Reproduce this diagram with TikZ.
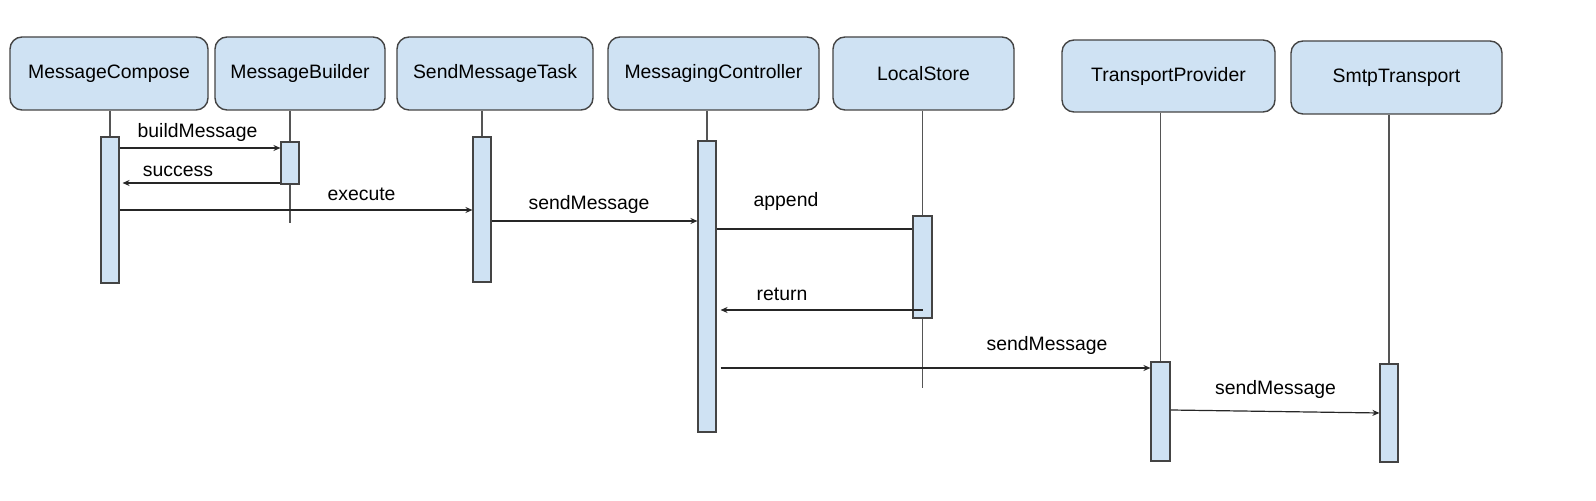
\documentclass[tikz,border=0pt]{standalone}
\usepackage{fontspec}
\setmainfont{Liberation Sans}
\usetikzlibrary{arrows.meta}
\definecolor{headblue}{HTML}{CFE2F3}
\definecolor{edgegray}{HTML}{444444}
\definecolor{lifegray}{HTML}{555555}

\begin{document}
\begin{tikzpicture}[x=0.5pt, y=-0.5pt,
	head/.style={draw=edgegray, fill=headblue, rounded corners=6pt, line width=0.7pt,
		minimum height=36.5pt, inner sep=0pt, font=\fontsize{9.7}{11}\selectfont},
	bar/.style={draw=edgegray, fill=headblue, line width=0.55pt, minimum width=9pt, inner sep=0pt},
	life/.style={draw=lifegray, line width=0.6pt},
	msg/.style={draw=black!85, line width=0.6pt, -{Stealth[length=3.5pt,width=3pt]}},
	lbl/.style={anchor=base, inner sep=0pt, font=\fontsize{9.7}{11}\selectfont}]

	\useasboundingbox (0,0) rectangle (1596,501);

	% Drawing the participants
	\node [head, minimum width=99pt] (compose) at (109,73.5) {MessageCompose};
	\node [head, minimum width=85pt] (builder) at (300,73.5) {MessageBuilder};
	\node [head, minimum width=98pt] (task) at (495,73.5) {SendMessageTask};
	\node [head, minimum width=105.5pt] (controller) at (713.5,73.5) {MessagingController};
	\node [head, minimum width=90.5pt] (store) at (923.5,73.5) {LocalStore};
	\node [head, minimum width=106.5pt, minimum height=36pt] (provider) at (1168.5,76) {TransportProvider};
	\node [head, minimum width=105.5pt] (smtp) at (1396.5,77.5) {SmtpTransport};

	% Drawing the activation bars
	\node [bar, minimum height=73pt] (cbar) at (110,210) {};
	\node [bar, minimum height=21pt] (bbar) at (290,163) {};
	\node [bar, minimum height=72.5pt] (tbar) at (482,209.5) {};
	\node [bar, minimum height=145.5pt] (mbar) at (707,286.5) {};
	\node [bar, minimum width=9.5pt, minimum height=51pt] (sbar) at (922.5,267) {};
	\node [bar, minimum width=9.5pt, minimum height=49.5pt] (pbar) at (1160.5,411.5) {};
	\node [bar, minimum height=49pt] (xbar) at (1389,413) {};

	% Drawing the lifelines
	\coordinate (bend) at (290,223);
	\coordinate (send) at (922.5,388);
	\draw [life] (compose.south -| cbar.north) -- (cbar.north);
	\draw [life] (builder.south -| bbar.north) -- (bbar.north);
	\draw [life] (bbar.south) -- (bend);
	\draw [life] (task.south -| tbar.north) -- (tbar.north);
	\draw [life] (controller.south -| mbar.north) -- (mbar.north);
	\draw [life] (store.south -| sbar.north) -- (sbar.north);
	\draw [life] (sbar.south) -- (send);
	\draw [life] (provider.south -| pbar.north) -- (pbar.north);
	\draw [life] (smtp.south -| xbar.north) -- (xbar.north);

	% Levels of the messages
	\foreach \n/\y in {lvbuild/148, lvsuccess/183, lvexecute/210, lvsend/221, lvappend/229,
		lvreturn/310, lvprovide/368, lvsmtpa/410, lvsmtpb/413}
		\coordinate (\n) at (0,\y);

	% Drawing the messages
	\draw [msg] (cbar.east |- lvbuild) -- (bbar.west |- lvbuild);
	\draw [msg, shorten >=1.5pt] (bbar.west |- lvsuccess) -- (cbar.east |- lvsuccess);
	\draw [msg] (cbar.east |- lvexecute) -- (tbar.west |- lvexecute);
	\draw [msg] (tbar.east |- lvsend) -- (mbar.west |- lvsend);
	\draw [life, draw=black!85] (mbar.east |- lvappend) -- (sbar.west |- lvappend);
	\draw [msg, shorten >=2pt] (sbar.center |- lvreturn) -- (mbar.east |- lvreturn);
	\draw [msg, shorten <=2pt] (mbar.east |- lvprovide) -- (pbar.west |- lvprovide);
	\draw [msg] (pbar.east |- lvsmtpa) -- (xbar.west |- lvsmtpb);

	% Labels of the messages
	\node [lbl] (lbuild) at (197.5,138) {buildMessage};
	\node [lbl] (lsuccess) at (178,177) {success};
	\node [lbl] (lexecute) at (361.5,201) {execute};
	\node [lbl] (lsend) at (589,210) {sendMessage};
	\node [lbl] (lappend) at (786,207) {append};
	\node [lbl] (lreturn) at (782,301) {return};
	\node [lbl] (lprovide) at (1047,351) {sendMessage};
	\node [lbl] (lsmtp) at (1275.5,395) {sendMessage};

\end{tikzpicture}
\end{document}
